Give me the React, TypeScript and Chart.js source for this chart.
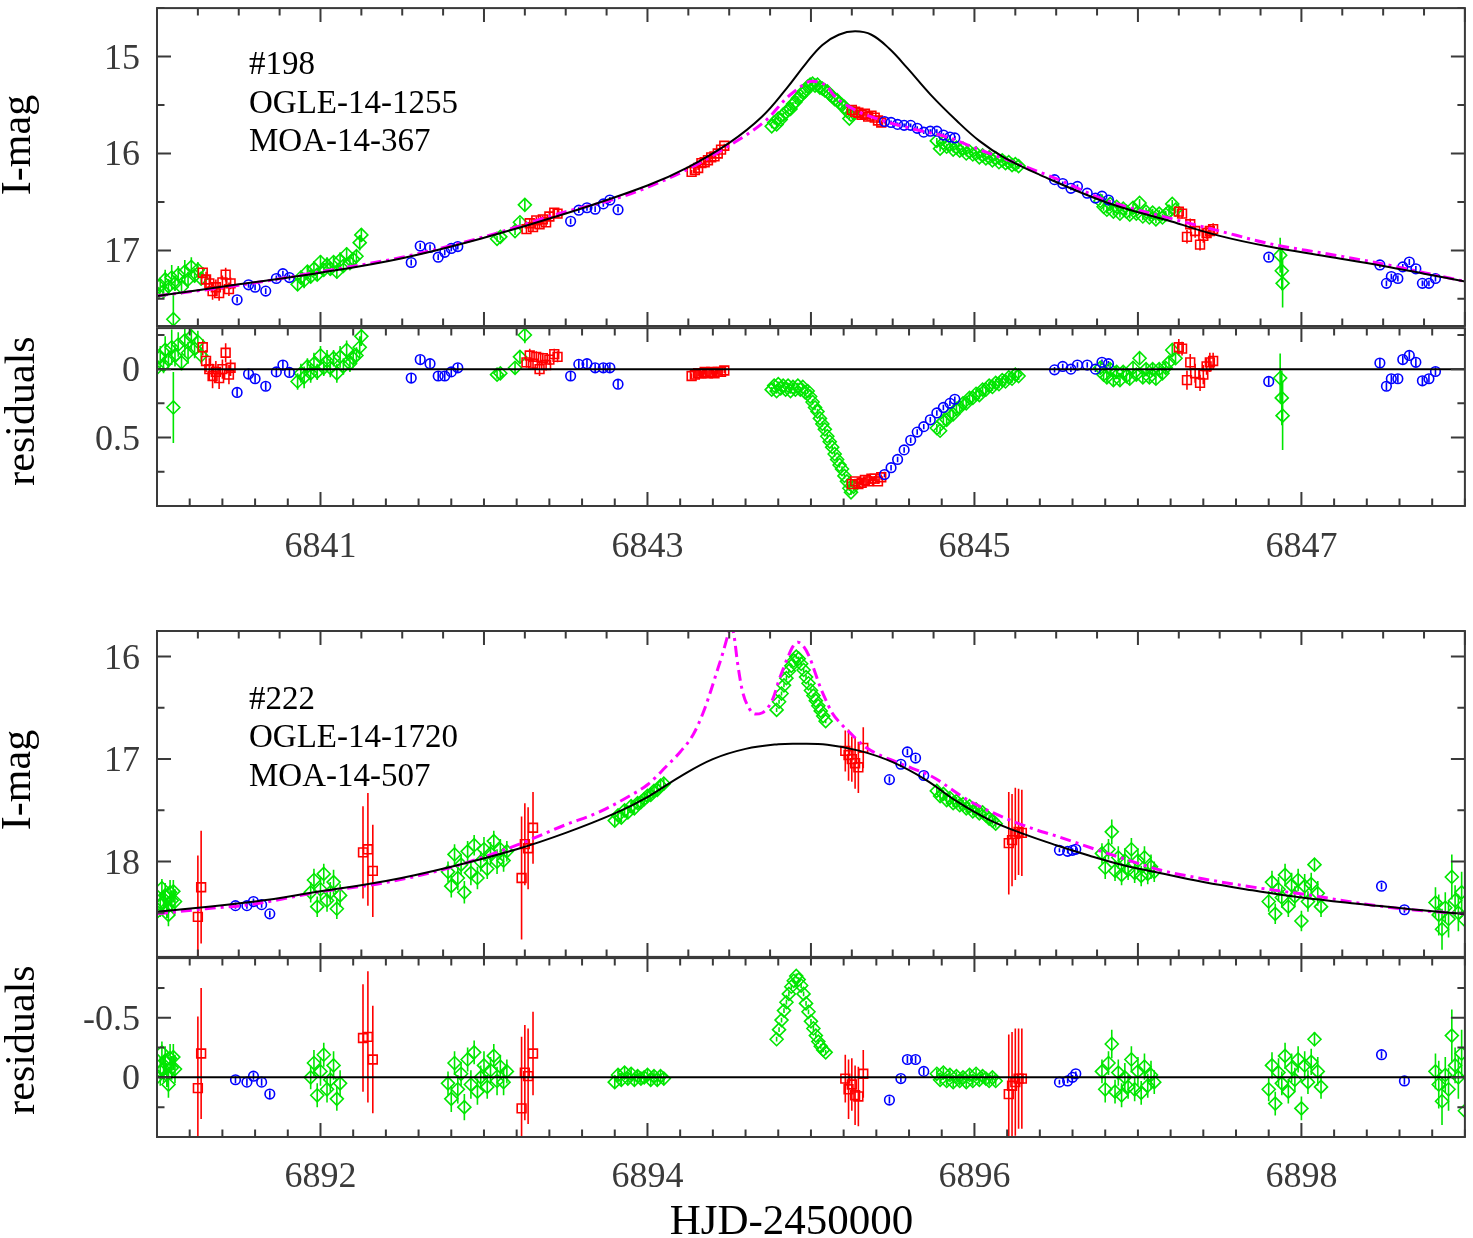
import React, { useEffect, useRef } from 'react';
import { Chart, registerables } from 'chart.js';

Chart.register(...registerables);

// ================= Event #198 =================
const ev1Labels = ['#198', 'OGLE-14-1255', 'MOA-14-367'];
const ev1XMin = 6840, ev1XMax = 6848;
const ev1MagMin = 14.5, ev1MagMax = 17.78;
const ev1ResMin = -0.3, ev1ResMax = 1.0;
const ev1XTickLabels = [6841, 6843, 6845, 6847];
const ev1MagTickLabels = [15, 16, 17];
const ev1ResTickLabels = [0, 0.5];

const ev1GreenT = [
  6840.00, 6840.02, 6840.04, 6840.05, 6840.07, 6840.09, 6840.11, 6840.13, 6840.15, 6840.17, 6840.19, 6840.21, 6840.23, 6840.25, 6840.27, 6840.10,
  6840.86, 6840.88, 6840.90, 6840.92, 6840.94, 6840.96, 6840.98, 6841.00, 6841.02, 6841.04, 6841.06, 6841.08, 6841.10, 6841.12, 6841.14, 6841.16, 6841.18, 6841.20, 6841.22, 6841.24, 6841.25,
  6842.08, 6842.10, 6842.19, 6842.22, 6842.25,
  6843.76, 6843.775, 6843.79, 6843.80, 6843.815, 6843.83, 6843.845, 6843.86, 6843.875, 6843.89, 6843.905, 6843.92, 6843.935, 6843.95, 6843.965, 6843.98, 6843.995, 6844.01, 6844.025, 6844.04, 6844.055, 6844.07, 6844.085, 6844.10, 6844.115, 6844.13, 6844.145, 6844.16, 6844.175, 6844.19, 6844.205, 6844.22, 6844.235, 6844.245, 6844.26,
  6844.77, 6844.79, 6844.81, 6844.83, 6844.85, 6844.87, 6844.89, 6844.91, 6844.93, 6844.95, 6844.97, 6844.99, 6845.01, 6845.03, 6845.05, 6845.07, 6845.09, 6845.11, 6845.13, 6845.15, 6845.17, 6845.19, 6845.21, 6845.23, 6845.25, 6845.27,
  6845.77, 6845.79, 6845.81, 6845.83, 6845.85, 6845.87, 6845.89, 6845.91, 6845.93, 6845.95, 6845.97, 6845.99, 6846.01, 6846.03, 6846.05, 6846.07, 6846.09, 6846.11, 6846.13, 6846.15, 6846.17, 6846.19, 6846.21, 6846.23,
  6846.87, 6846.88, 6846.885,
];
const ev1GreenMag = [
  17.44, 17.36, 17.42, 17.30, 17.37, 17.28, 17.34, 17.25, 17.38, 17.22, 17.30, 17.17, 17.26, 17.20, 17.29, 17.71,
  17.35, 17.28, 17.31, 17.22, 17.27, 17.19, 17.25, 17.12, 17.20, 17.15, 17.19, 17.12, 17.22, 17.10, 17.16, 17.04, 17.13, 17.09, 17.06, 16.92, 16.84,
  16.88, 16.86, 16.80, 16.71, 16.53,
  15.72, 15.68, 15.70, 15.64, 15.65, 15.60, 15.58, 15.55, 15.54, 15.49, 15.47, 15.43, 15.41, 15.37, 15.36, 15.31, 15.29, 15.28, 15.30, 15.29, 15.32, 15.33, 15.35, 15.36, 15.39, 15.41, 15.44, 15.45, 15.48, 15.50, 15.52, 15.56, 15.64, 15.60, 15.58,
  15.87, 15.95, 15.89, 15.93, 15.91, 15.96, 15.94, 15.97, 15.95, 16.00, 15.98, 16.01, 16.00, 16.04, 16.02, 16.05, 16.04, 16.07, 16.05, 16.09, 16.07, 16.10, 16.09, 16.12, 16.11, 16.13,
  16.49, 16.55, 16.58, 16.52, 16.60, 16.55, 16.62, 16.57, 16.60, 16.63, 16.56, 16.62, 16.51, 16.65, 16.60, 16.66, 16.61, 16.68, 16.62, 16.66, 16.63, 16.60, 16.52, 16.58,
  17.05, 17.21, 17.34,
];
const ev1GreenErr = [
  0.05, 0.08, 0.06, 0.10, 0.07, 0.13, 0.08, 0.09, 0.06, 0.12, 0.08, 0.10, 0.07, 0.08, 0.06, 0.26,
  0.06, 0.07, 0.08, 0.06, 0.07, 0.08, 0.06, 0.07, 0.06, 0.08, 0.07, 0.06, 0.07, 0.08, 0.06, 0.07, 0.06, 0.07, 0.06, 0.08, 0.07,
  0.03, 0.03, 0.04, 0.05, 0.06,
  0.02, 0.02, 0.02, 0.02, 0.02, 0.02, 0.02, 0.02, 0.02, 0.02, 0.02, 0.02, 0.02, 0.02, 0.02, 0.02, 0.02, 0.02, 0.02, 0.02, 0.02, 0.02, 0.02, 0.02, 0.02, 0.02, 0.02, 0.02, 0.02, 0.02, 0.02, 0.02, 0.02, 0.02, 0.02,
  0.03, 0.03, 0.03, 0.03, 0.03, 0.03, 0.03, 0.03, 0.03, 0.03, 0.03, 0.03, 0.03, 0.03, 0.03, 0.03, 0.03, 0.03, 0.03, 0.03, 0.03, 0.03, 0.03, 0.03, 0.03, 0.03,
  0.04, 0.04, 0.04, 0.04, 0.04, 0.04, 0.04, 0.04, 0.04, 0.04, 0.04, 0.04, 0.04, 0.04, 0.04, 0.04, 0.04, 0.04, 0.04, 0.04, 0.04, 0.04, 0.04, 0.04,
  0.18, 0.2, 0.25,
];
const ev1GreenRes = [
  -0.01, -0.09, -0.03, -0.14, -0.07, -0.16, -0.10, -0.18, -0.05, -0.21, -0.12, -0.24, -0.15, -0.20, -0.10, 0.28,
  0.09, 0.03, 0.06, -0.02, 0.03, -0.04, 0.02, -0.10, -0.01, -0.06, -0.01, -0.08, 0.03, -0.09, -0.02, -0.14, -0.04, -0.08, -0.10, -0.16, -0.24,
  0.04, 0.03, -0.01, -0.09, -0.25,
  0.15, 0.12, 0.16, 0.11, 0.14, 0.12, 0.15, 0.12, 0.16, 0.13, 0.15, 0.12, 0.15, 0.13, 0.17, 0.16, 0.20, 0.24, 0.28, 0.31, 0.36, 0.40, 0.44, 0.49, 0.53, 0.57, 0.62, 0.66, 0.70, 0.73, 0.78, 0.82, 0.87, 0.90, 0.86,
  0.43, 0.45, 0.38, 0.37, 0.33, 0.33, 0.29, 0.28, 0.25, 0.25, 0.21, 0.21, 0.18, 0.19, 0.15, 0.15, 0.12, 0.13, 0.10, 0.11, 0.08, 0.09, 0.06, 0.07, 0.04, 0.05,
  -0.01, 0.04, 0.06, 0.0, 0.08, 0.02, 0.08, 0.02, 0.05, 0.07, -0.01, 0.04, -0.08, 0.06, 0.0, 0.06, 0.0, 0.07, 0.0, 0.03, -0.01, -0.05, -0.14, -0.08,
  0.065, 0.21, 0.34,
];

const ev1RedT = [
  6840.28, 6840.30, 6840.32, 6840.34, 6840.36, 6840.38, 6840.40, 6840.42, 6840.44, 6840.45,
  6842.26, 6842.28, 6842.30, 6842.32, 6842.34, 6842.36, 6842.38, 6842.40, 6842.43, 6842.45,
  6843.27, 6843.29, 6843.31, 6843.33, 6843.35, 6843.37, 6843.39, 6843.41, 6843.43, 6843.45, 6843.47,
  6844.25, 6844.27, 6844.29, 6844.31, 6844.33, 6844.35, 6844.37, 6844.39, 6844.41, 6844.43,
  6846.25, 6846.27, 6846.30, 6846.32, 6846.35, 6846.38, 6846.40, 6846.42, 6846.44, 6846.46,
];
const ev1RedMag = [
  17.23, 17.30, 17.34, 17.42, 17.38, 17.44, 17.33, 17.25, 17.40, 17.34,
  16.78, 16.72, 16.76, 16.69, 16.73, 16.68, 16.71, 16.65, 16.61, 16.62,
  16.19, 16.17, 16.15, 16.10, 16.09, 16.07, 16.04, 16.03, 16.00, 15.96, 15.92,
  15.55, 15.57, 15.58, 15.60, 15.59, 15.62, 15.61, 15.63, 15.66, 15.68,
  16.60, 16.62, 16.86, 16.73, 16.80, 16.94, 16.85, 16.82, 16.80, 16.78,
];
const ev1RedErr = [
  0.06, 0.08, 0.08, 0.09, 0.08, 0.08, 0.07, 0.07, 0.07, 0.06,
  0.04, 0.05, 0.04, 0.04, 0.05, 0.04, 0.04, 0.04, 0.04, 0.04,
  0.02, 0.02, 0.02, 0.02, 0.02, 0.02, 0.02, 0.02, 0.02, 0.02, 0.02,
  0.02, 0.02, 0.02, 0.02, 0.02, 0.02, 0.02, 0.02, 0.02, 0.02,
  0.06, 0.05, 0.07, 0.06, 0.07, 0.06, 0.07, 0.06, 0.07, 0.06,
];
const ev1RedRes = [
  -0.16, -0.06, 0.0, 0.05, 0.02, 0.065, 0.0, -0.12, 0.04, -0.01,
  -0.05, -0.10, -0.04, -0.09, 0.0, -0.08, -0.03, -0.07, -0.11, -0.09,
  0.05, 0.04, 0.03, 0.03, 0.02, 0.03, 0.02, 0.03, 0.02, 0.02, 0.01,
  0.84, 0.82, 0.84, 0.83, 0.81, 0.82, 0.80, 0.80, 0.82, 0.79,
  -0.16, -0.15, 0.08, -0.05, 0.03, 0.10, 0.04, -0.02, -0.05, -0.06,
];

const ev1BlueT = [
  6840.49, 6840.56, 6840.60, 6840.665, 6840.73, 6840.77, 6840.81,
  6841.555, 6841.61, 6841.67, 6841.72, 6841.76, 6841.80, 6841.84,
  6842.53, 6842.58, 6842.63, 6842.68, 6842.73, 6842.77, 6842.82,
  6844.45, 6844.49, 6844.53, 6844.57, 6844.61, 6844.65, 6844.69, 6844.73, 6844.77, 6844.81, 6844.85, 6844.88,
  6845.49, 6845.54, 6845.59, 6845.63, 6845.69, 6845.74, 6845.78, 6845.82,
  6846.80,
  6847.48, 6847.52, 6847.55, 6847.59, 6847.62, 6847.66, 6847.70, 6847.74, 6847.78, 6847.82,
];
const ev1BlueMag = [
  17.51, 17.355, 17.38, 17.42, 17.29, 17.24, 17.28,
  17.125, 16.955, 16.97, 17.07, 17.02, 16.98, 16.96,
  16.70, 16.585, 16.56, 16.575, 16.52, 16.48, 16.58,
  15.67, 15.68, 15.70, 15.71, 15.71, 15.74, 15.78, 15.77, 15.77, 15.81, 15.83, 15.84,
  16.27, 16.31, 16.36, 16.34, 16.41, 16.46, 16.44, 16.48,
  17.07,
  17.15, 17.34, 17.27, 17.29, 17.17, 17.12, 17.19, 17.34, 17.34, 17.29,
];
const ev1BlueErr = [
  0.03, 0.03, 0.03, 0.03, 0.03, 0.03, 0.03,
  0.03, 0.03, 0.03, 0.03, 0.03, 0.03, 0.03,
  0.03, 0.03, 0.03, 0.03, 0.03, 0.03, 0.03,
  0.02, 0.02, 0.02, 0.02, 0.02, 0.02, 0.02, 0.02, 0.02, 0.02, 0.02, 0.02,
  0.02, 0.02, 0.02, 0.02, 0.02, 0.02, 0.02, 0.02,
  0.03,
  0.03, 0.03, 0.03, 0.03, 0.03, 0.03, 0.03, 0.03, 0.03, 0.03,
];
const ev1BlueRes = [
  0.17, 0.036, 0.07, 0.125, 0.02, -0.03, 0.024,
  0.065, -0.07, -0.04, 0.05, 0.05, 0.02, -0.01,
  0.05, -0.035, -0.04, -0.01, -0.01, -0.01, 0.11,
  0.77, 0.72, 0.66, 0.59, 0.52, 0.46, 0.42, 0.37, 0.32, 0.28, 0.25, 0.22,
  0.005, -0.02, 0.0, -0.03, -0.03, 0.0, -0.05, -0.04,
  0.09,
  -0.045, 0.125, 0.07, 0.07, -0.07, -0.10, -0.05, 0.085, 0.07, 0.017,
];

const ev1SingleT = [6840.0, 6840.5, 6841.0, 6841.5, 6842.0, 6842.5, 6843.0, 6843.25, 6843.5, 6843.7, 6843.85, 6843.97, 6844.07, 6844.17, 6844.27, 6844.37, 6844.48, 6844.59, 6844.73, 6844.89, 6845.03, 6845.18, 6845.4, 6845.8, 6846.2, 6846.5, 6846.8, 6847.15, 6847.5, 6847.75, 6848.0];
const ev1SingleMag = [17.47, 17.35, 17.23, 17.08, 16.87, 16.62, 16.33, 16.14, 15.89, 15.62, 15.33, 15.07, 14.88, 14.775, 14.74, 14.775, 14.92, 15.12, 15.39, 15.66, 15.87, 16.04, 16.22, 16.50, 16.70, 16.85, 16.96, 17.06, 17.16, 17.24, 17.32];
const ev1BinaryT = [6840.0, 6840.5, 6841.0, 6841.5, 6842.0, 6842.5, 6842.8, 6843.0, 6843.26, 6843.48, 6843.73, 6843.85, 6843.93, 6843.97, 6844.01, 6844.06, 6844.1, 6844.14, 6844.28, 6844.42, 6844.63, 6844.83, 6845.03, 6845.24, 6845.5, 6845.8, 6846.2, 6846.5, 6846.83, 6847.14, 6847.5, 6847.75, 6848.0];
const ev1BinaryMag = [17.47, 17.36, 17.22, 17.07, 16.86, 16.60, 16.47, 16.35, 16.15, 15.94, 15.65, 15.43, 15.32, 15.27, 15.255, 15.27, 15.31, 15.40, 15.56, 15.65, 15.75, 15.83, 15.96, 16.09, 16.26, 16.48, 16.67, 16.80, 16.94, 17.03, 17.14, 17.23, 17.32];

// ================= Event #222 =================
const ev2Labels = ['#222', 'OGLE-14-1720', 'MOA-14-507'];
const ev2XMin = 6891, ev2XMax = 6899;
const ev2MagMin = 15.75, ev2MagMax = 18.93;
const ev2ResMin = -1.0, ev2ResMax = 0.5;
const ev2XTickLabels = [6892, 6894, 6896, 6898];
const ev2MagTickLabels = [16, 17, 18];
const ev2ResTickLabels = [-0.5, 0];

const ev2GreenT = [
  6891.00, 6891.02, 6891.03, 6891.04, 6891.05, 6891.06, 6891.07, 6891.08, 6891.09, 6891.10, 6891.11,
  6891.94, 6891.96, 6891.98, 6892.00, 6892.02, 6892.04, 6892.06, 6892.08, 6892.10, 6892.12,
  6892.78, 6892.80, 6892.82, 6892.84, 6892.86, 6892.88, 6892.90, 6892.92, 6892.94, 6892.96, 6892.98, 6893.00, 6893.02, 6893.04, 6893.06, 6893.08, 6893.10, 6893.12, 6893.14,
  6893.80, 6893.82, 6893.84, 6893.86, 6893.88, 6893.90, 6893.92, 6893.94, 6893.96, 6893.98, 6894.00, 6894.02, 6894.04, 6894.06, 6894.08, 6894.10,
  6894.79, 6894.805, 6894.82, 6894.835, 6894.85, 6894.865, 6894.88, 6894.895, 6894.91, 6894.925, 6894.94, 6894.955, 6894.97, 6894.985, 6895.00, 6895.015, 6895.03, 6895.045, 6895.06, 6895.075, 6895.09,
  6895.77, 6895.79, 6895.81, 6895.83, 6895.85, 6895.87, 6895.89, 6895.91, 6895.93, 6895.95, 6895.97, 6895.99, 6896.01, 6896.03, 6896.05, 6896.07, 6896.09, 6896.11, 6896.13,
  6896.78, 6896.80, 6896.82, 6896.84, 6896.86, 6896.88, 6896.90, 6896.92, 6896.94, 6896.96, 6896.98, 6897.00, 6897.02, 6897.04, 6897.06, 6897.08, 6897.10,
  6897.80, 6897.82, 6897.84, 6897.86, 6897.88, 6897.90, 6897.92, 6897.94, 6897.96, 6897.98, 6898.00, 6898.02, 6898.04, 6898.06, 6898.08, 6898.10, 6898.12,
  6898.82, 6898.84, 6898.86, 6898.88, 6898.90, 6898.92, 6898.94, 6898.96, 6898.98, 6899.00,
];
const ev2GreenMag = [
  18.49, 18.42, 18.26, 18.40, 18.33, 18.45, 18.52, 18.30, 18.38, 18.29, 18.39,
  18.30, 18.18, 18.44, 18.27, 18.12, 18.38, 18.30, 18.20, 18.46, 18.33,
  18.10, 18.24, 17.93, 18.16, 18.03, 18.30, 17.90, 18.11, 17.84, 18.16, 18.00, 17.88, 18.07, 17.92, 17.80, 18.00, 17.88, 17.99, 17.90,
  17.60, 17.55, 17.57, 17.50, 17.52, 17.46, 17.48, 17.43, 17.42, 17.39, 17.36, 17.35, 17.31, 17.30, 17.26, 17.24,
  16.52, 16.44, 16.36, 16.28, 16.21, 16.14, 16.09, 16.04, 16.00, 16.02, 16.07, 16.13, 16.20, 16.26, 16.33, 16.38, 16.43, 16.48, 16.53, 16.58, 16.63,
  17.31, 17.36, 17.34, 17.40, 17.38, 17.43, 17.41, 17.45, 17.44, 17.48, 17.46, 17.51, 17.49, 17.53, 17.52, 17.55, 17.58, 17.60, 17.63,
  17.92, 18.06, 17.88, 17.71, 18.09, 17.96, 18.13, 17.99, 18.08, 17.88, 18.11, 17.99, 18.14, 17.96, 18.12, 18.05, 18.10,
  18.39, 18.20, 18.51, 18.27, 18.35, 18.13, 18.44, 18.23, 18.34, 18.18, 18.58, 18.24, 18.39, 18.22, 18.03, 18.31, 18.44,
  18.40, 18.52, 18.66, 18.45, 18.56, 18.15, 18.38, 18.50, 18.30, 18.57,
];
const ev2GreenErr = [
  0.10, 0.12, 0.09, 0.11, 0.12, 0.10, 0.11, 0.12, 0.10, 0.11, 0.12,
  0.10, 0.11, 0.10, 0.12, 0.10, 0.11, 0.10, 0.12, 0.10, 0.11,
  0.10, 0.11, 0.10, 0.12, 0.10, 0.11, 0.10, 0.12, 0.10, 0.11, 0.10, 0.12, 0.10, 0.11, 0.10, 0.12, 0.10, 0.11, 0.10,
  0.05, 0.05, 0.05, 0.05, 0.05, 0.05, 0.05, 0.05, 0.05, 0.05, 0.05, 0.05, 0.05, 0.05, 0.05, 0.05,
  0.02, 0.02, 0.02, 0.02, 0.02, 0.02, 0.02, 0.02, 0.02, 0.02, 0.02, 0.02, 0.02, 0.02, 0.02, 0.02, 0.02, 0.02, 0.02, 0.02, 0.02,
  0.04, 0.04, 0.04, 0.04, 0.04, 0.04, 0.04, 0.04, 0.04, 0.04, 0.04, 0.04, 0.04, 0.04, 0.04, 0.04, 0.04, 0.04, 0.04,
  0.10, 0.11, 0.10, 0.12, 0.10, 0.11, 0.10, 0.12, 0.10, 0.11, 0.10, 0.12, 0.10, 0.11, 0.10, 0.12, 0.10,
  0.10, 0.11, 0.10, 0.12, 0.10, 0.11, 0.10, 0.12, 0.10, 0.11, 0.10, 0.12, 0.10, 0.11, 0.06, 0.12, 0.10,
  0.15, 0.20, 0.20, 0.15, 0.18, 0.22, 0.15, 0.18, 0.20, 0.20,
];
const ev2GreenRes = [
  0.0, -0.05, -0.21, -0.07, -0.14, -0.02, 0.06, -0.16, -0.08, -0.17, -0.07,
  0.0, -0.12, 0.15, -0.05, -0.19, 0.10, 0.02, -0.10, 0.18, 0.05,
  0.05, 0.18, -0.12, 0.10, -0.03, 0.25, -0.15, 0.06, -0.21, 0.12, 0.0, -0.10, 0.08, -0.06, -0.18, 0.03, -0.09, 0.04, -0.05,
  0.04, -0.02, 0.02, -0.04, 0.01, -0.03, 0.02, -0.01, 0.01, 0.0, -0.02, 0.02, -0.01, 0.02, -0.01, 0.01,
  -0.32, -0.40, -0.48, -0.56, -0.63, -0.70, -0.76, -0.81, -0.85, -0.82, -0.77, -0.70, -0.62, -0.55, -0.47, -0.41, -0.35, -0.30, -0.26, -0.23, -0.21,
  -0.03, 0.02, -0.04, 0.03, -0.02, 0.04, -0.01, 0.03, 0.0, 0.04, -0.02, 0.03, -0.03, 0.02, -0.01, 0.01, 0.03, 0.0, 0.03,
  -0.05, 0.10, -0.12, -0.28, 0.12, -0.04, 0.15, 0.0, 0.08, -0.15, 0.10, -0.05, 0.13, -0.09, 0.07, -0.02, 0.04,
  0.10, -0.10, 0.22, -0.04, 0.05, -0.18, 0.12, -0.08, 0.02, -0.15, 0.26, -0.10, 0.04, -0.13, -0.32, -0.05, 0.08,
  -0.05, 0.06, 0.20, -0.02, 0.10, -0.35, -0.10, 0.0, -0.20, 0.28,
];

const ev2RedT = [6891.25, 6891.27, 6892.26, 6892.29, 6892.32, 6893.23, 6893.25, 6893.27, 6893.30, 6895.21, 6895.23, 6895.25, 6895.27, 6895.29, 6895.32, 6896.21, 6896.23, 6896.25, 6896.27, 6896.29];
const ev2RedMag = [18.54, 18.25, 17.91, 17.88, 18.09, 18.16, 17.83, 17.87, 17.67, 16.92, 16.96, 17.00, 17.04, 17.08, 16.89, 17.82, 17.79, 17.73, 17.71, 17.72];
const ev2RedErr = [0.6, 0.55, 0.45, 0.55, 0.45, 0.6, 0.4, 0.4, 0.35, 0.2, 0.25, 0.22, 0.25, 0.25, 0.2, 0.5, 0.45, 0.45, 0.42, 0.42];
const ev2RedRes = [0.09, -0.2, -0.33, -0.34, -0.15, 0.26, -0.04, -0.01, -0.2, 0.01, 0.1, 0.06, 0.15, 0.16, -0.03, 0.14, 0.07, 0.04, 0.01, 0.01];

const ev2BlueT = [6891.48, 6891.55, 6891.59, 6891.64, 6891.69, 6895.48, 6895.55, 6895.59, 6895.64, 6895.69, 6896.52, 6896.57, 6896.60, 6896.62, 6898.49, 6898.63];
const ev2BlueMag = [18.43, 18.43, 18.39, 18.42, 18.51, 17.20, 17.05, 16.93, 16.99, 17.16, 17.89, 17.90, 17.89, 17.88, 18.24, 18.47];
const ev2BlueErr = [0.03, 0.03, 0.03, 0.03, 0.03, 0.03, 0.03, 0.03, 0.03, 0.03, 0.02, 0.02, 0.02, 0.02, 0.03, 0.03];
const ev2BlueRes = [0.02, 0.04, -0.01, 0.04, 0.14, 0.19, 0.01, -0.15, -0.15, -0.05, 0.04, 0.03, 0.0, -0.03, -0.19, 0.03];

const ev2SingleT = [6891.0, 6891.6, 6892.0, 6892.4, 6892.8, 6893.2, 6893.5, 6893.8, 6894.0, 6894.2, 6894.4, 6894.6, 6894.8, 6894.93, 6895.1, 6895.3, 6895.5, 6895.7, 6895.9, 6896.1, 6896.3, 6896.5, 6896.7, 6896.9, 6897.1, 6897.4, 6897.7, 6898.0, 6898.4, 6898.7, 6899.0];
const ev2SingleMag = [18.49, 18.39, 18.29, 18.19, 18.05, 17.88, 17.72, 17.53, 17.37, 17.17, 17.00, 16.90, 16.855, 16.85, 16.86, 16.92, 17.03, 17.20, 17.42, 17.60, 17.73, 17.84, 17.94, 18.03, 18.10, 18.20, 18.28, 18.35, 18.42, 18.47, 18.51];
const ev2BinaryT = [6891.0, 6891.3, 6891.57, 6891.98, 6892.38, 6892.79, 6893.2, 6893.5, 6893.70, 6893.89, 6894.0, 6894.11, 6894.2, 6894.28, 6894.34, 6894.38, 6894.42, 6894.46, 6894.49, 6894.51, 6894.53, 6894.55, 6894.58, 6894.62, 6894.66, 6894.70, 6894.74, 6894.77, 6894.80, 6894.83, 6894.86, 6894.89, 6894.92, 6894.95, 6894.99, 6895.02, 6895.05, 6895.09, 6895.13, 6895.18, 6895.23, 6895.34, 6895.54, 6895.74, 6895.95, 6896.15, 6896.36, 6896.52, 6896.72, 6896.93, 6897.13, 6897.44, 6897.75, 6898.06, 6898.37, 6898.67, 6899.0];
const ev2BinaryMag = [18.51, 18.46, 18.42, 18.30, 18.21, 18.06, 17.84, 17.64, 17.52, 17.36, 17.25, 17.08, 16.93, 16.76, 16.55, 16.37, 16.17, 15.97, 15.80, 15.68, 15.80, 16.05, 16.33, 16.50, 16.56, 16.55, 16.49, 16.40, 16.25, 16.12, 16.00, 15.90, 15.86, 15.89, 16.00, 16.13, 16.27, 16.42, 16.55, 16.65, 16.73, 16.89, 17.04, 17.17, 17.39, 17.55, 17.68, 17.76, 17.87, 17.98, 18.08, 18.18, 18.26, 18.33, 18.41, 18.47, 18.51];

const xAxisTitle = 'HJD-2450000';
const magAxisTitle = 'I-mag';
const resAxisTitle = 'residuals';

// ================= styling / layout =================
const GREEN = '#00e600';
const RED = '#ff0000';
const BLUE = '#0000ff';
const MAGENTA = '#ff00ff';
const AXIS = '#3a3a3a';
const FONT = '"Liberation Serif", "Times New Roman", Times, serif';
const W = 1473;
const PLOT_L = 157;
const PLOT_R = 1466;

function range(a: number, b: number, s: number): number[] {
  const out: number[] = [];
  for (let i = 0; a + i * s <= b + 1e-9; i++) out.push(Math.round((a + i * s) * 1000) / 1000);
  return out;
}

function pts(t: number[], v: number[]) {
  return t.map((x, i) => ({ x, y: v[i] }));
}

function markerSet(label: string, t: number[], v: number[], e: number[], kind: 'g' | 'r' | 'b') {
  const color = kind === 'g' ? GREEN : kind === 'r' ? RED : BLUE;
  const style = kind === 'g' ? 'rectRot' : kind === 'r' ? 'rect' : 'circle';
  const radius = kind === 'g' ? 6.5 : kind === 'r' ? 6.2 : 4.8;
  return {
    label,
    data: pts(t, v),
    errs: e,
    showLine: false,
    pointStyle: style,
    pointRadius: radius,
    pointHoverRadius: radius,
    pointBorderColor: color,
    pointBackgroundColor: 'rgba(0,0,0,0)',
    pointBorderWidth: 1.6,
    borderColor: color,
    order: kind === 'g' ? 3 : kind === 'r' ? 2 : 1,
  };
}

function curveSet(label: string, t: number[], v: number[], kind: 'single' | 'binary' | 'zero') {
  return {
    label,
    data: pts(t, v),
    showLine: true,
    pointRadius: 0,
    pointHoverRadius: 0,
    borderColor: kind === 'binary' ? MAGENTA : '#000000',
    borderWidth: kind === 'binary' ? 3 : 2,
    borderDash: kind === 'binary' ? [11, 5, 3, 5] : [],
    cubicInterpolationMode: kind === 'binary' ? 'monotone' : 'default',
    tension: kind === 'single' ? 0.4 : 0,
    fill: false,
    order: 0,
  };
}

type Decor = {
  yMajor: number[];
  yMinor: number[];
  yLabels: number[];
  xMajorTop: number[];
  xMinorTop: number[];
  xMajorBot: number[];
  xMinorBot: number[];
  xLabels: number[];
  xLabelBase: number;
  yTitle: string;
  yTitleX: number;
  yTitleY: number;
  texts: string[];
  textX: number;
  textBase: number[];
  xTitle?: string;
  xTitleBase?: number;
};

function fmt(v: number) {
  return String(v);
}

function makeDecor(d: Decor) {
  return {
    id: 'decor',
    beforeDatasetsDraw(chart: any) {
      const { ctx, chartArea: a, scales } = chart;
      const xs = scales.x;
      const ys = scales.y;
      ctx.save();
      ctx.beginPath();
      ctx.rect(a.left, a.top, a.right - a.left, a.bottom - a.top);
      ctx.clip();
      chart.data.datasets.forEach((ds: any) => {
        if (!ds.errs) return;
        ctx.strokeStyle = ds.borderColor;
        ctx.lineWidth = 1.6;
        ctx.beginPath();
        ds.data.forEach((p: any, i: number) => {
          const e = ds.errs[i] ?? 0;
          const px = xs.getPixelForValue(p.x);
          ctx.moveTo(px, ys.getPixelForValue(p.y - e));
          ctx.lineTo(px, ys.getPixelForValue(p.y + e));
        });
        ctx.stroke();
      });
      ctx.restore();
    },
    afterDraw(chart: any) {
      const { ctx, chartArea: a, scales } = chart;
      const xs = scales.x;
      const ys = scales.y;
      const LONG = 14;
      const SHORT = 7.5;
      ctx.save();
      ctx.strokeStyle = AXIS;
      ctx.lineWidth = 2;
      ctx.beginPath();
      const inX = (v: number) => v >= xs.min - 1e-9 && v <= xs.max + 1e-9;
      const inY = (v: number) => v >= Math.min(ys.min, ys.max) - 1e-9 && v <= Math.max(ys.min, ys.max) + 1e-9;
      const xt = (vals: number[], len: number, top: boolean) => {
        vals.filter(inX).forEach((v) => {
          const px = xs.getPixelForValue(v);
          if (top) {
            ctx.moveTo(px, a.top);
            ctx.lineTo(px, a.top + len);
          } else {
            ctx.moveTo(px, a.bottom);
            ctx.lineTo(px, a.bottom - len);
          }
        });
      };
      xt(d.xMajorTop, LONG, true);
      xt(d.xMinorTop, SHORT, true);
      xt(d.xMajorBot, LONG, false);
      xt(d.xMinorBot, SHORT, false);
      const yt = (vals: number[], len: number) => {
        vals.filter(inY).forEach((v) => {
          const py = ys.getPixelForValue(v);
          ctx.moveTo(a.left, py);
          ctx.lineTo(a.left + len, py);
          ctx.moveTo(a.right, py);
          ctx.lineTo(a.right - len, py);
        });
      };
      yt(d.yMajor, LONG);
      yt(d.yMinor, SHORT);
      ctx.stroke();
      ctx.strokeRect(a.left, a.top, a.right - a.left, a.bottom - a.top);

      ctx.fillStyle = AXIS;
      ctx.font = `36px ${FONT}`;
      ctx.textAlign = 'right';
      ctx.textBaseline = 'alphabetic';
      d.yLabels.forEach((v) => {
        ctx.fillText(fmt(v), 140, ys.getPixelForValue(v) + 12);
      });
      ctx.textAlign = 'center';
      d.xLabels.forEach((v) => {
        ctx.fillText(fmt(v), xs.getPixelForValue(v), d.xLabelBase);
      });

      ctx.fillStyle = '#000000';
      ctx.font = `42px ${FONT}`;
      ctx.save();
      ctx.translate(d.yTitleX, d.yTitleY);
      ctx.rotate(-Math.PI / 2);
      ctx.textAlign = 'center';
      ctx.fillText(d.yTitle, 0, 0);
      ctx.restore();
      if (d.xTitle) {
        ctx.font = `43px ${FONT}`;
        ctx.textAlign = 'center';
        ctx.fillText(d.xTitle, (PLOT_L + PLOT_R) / 2 - 20, d.xTitleBase as number);
      }
      ctx.font = `33px ${FONT}`;
      ctx.textAlign = 'left';
      d.texts.forEach((s, i) => ctx.fillText(s, d.textX, d.textBase[i]));
      ctx.restore();
    },
  };
}

type PanelProps = {
  top: number;
  height: number;
  areaTop: number;
  areaBottom: number;
  xMin: number;
  xMax: number;
  yMin: number;
  yMax: number;
  datasets: any[];
  decor: Decor;
};

function Panel(p: PanelProps) {
  const ref = useRef<HTMLCanvasElement | null>(null);
  useEffect(() => {
    if (!ref.current) return;
    const chart = new Chart(ref.current, {
      type: 'scatter',
      data: { datasets: p.datasets },
      options: {
        animation: false,
        responsive: false,
        maintainAspectRatio: false,
        events: [],
        layout: {
          padding: { left: PLOT_L, right: W - PLOT_R, top: p.areaTop, bottom: p.height - p.areaBottom },
        },
        scales: {
          x: { type: 'linear', min: p.xMin, max: p.xMax, display: false },
          y: { type: 'linear', min: p.yMin, max: p.yMax, reverse: true, display: false },
        },
        plugins: { legend: { display: false }, tooltip: { enabled: false } },
      } as any,
      plugins: [makeDecor(p.decor)],
    } as any);
    return () => chart.destroy();
  }, []);
  return (
    <canvas
      ref={ref}
      width={W}
      height={p.height}
      style={{ position: 'absolute', left: 0, top: p.top, width: W, height: p.height }}
    />
  );
}

const zeroLine = [0, 0];

export default function App() {
  const mainMinor1 = range(ev1XMin, ev1XMax, 0.25);
  const mainMajor1 = range(ev1XMin, ev1XMax, 1);
  const resMinor1 = range(ev1XMin, ev1XMax, 0.2);
  const mainMinor2 = range(ev2XMin, ev2XMax, 0.25);
  const mainMajor2 = range(ev2XMin, ev2XMax, 1);
  const resMinor2 = range(ev2XMin, ev2XMax, 0.2);

  const p1: PanelProps = {
    top: 0, height: 340, areaTop: 2, areaBottom: 326,
    xMin: ev1XMin, xMax: ev1XMax, yMin: ev1MagMin, yMax: ev1MagMax,
    datasets: [
      curveSet('single', ev1SingleT, ev1SingleMag, 'single'),
      curveSet('binary', ev1BinaryT, ev1BinaryMag, 'binary'),
      markerSet('blue', ev1BlueT, ev1BlueMag, ev1BlueErr, 'b'),
      markerSet('red', ev1RedT, ev1RedMag, ev1RedErr, 'r'),
      markerSet('green', ev1GreenT, ev1GreenMag, ev1GreenErr, 'g'),
    ],
    decor: {
      yMajor: ev1MagTickLabels, yMinor: [14.5, 15.5, 16.5, 17.5], yLabels: ev1MagTickLabels,
      xMajorTop: mainMajor1, xMinorTop: mainMinor1, xMajorBot: mainMajor1, xMinorBot: mainMinor1,
      xLabels: [], xLabelBase: 0,
      yTitle: magAxisTitle, yTitleX: 30, yTitleY: 145,
      texts: ev1Labels, textX: 249, textBase: [74, 112.5, 151],
    },
  };
  const p2: PanelProps = {
    top: 320, height: 300, areaTop: 6, areaBottom: 186,
    xMin: ev1XMin, xMax: ev1XMax, yMin: ev1ResMin, yMax: ev1ResMax,
    datasets: [
      curveSet('zero', [ev1XMin, ev1XMax], zeroLine, 'zero'),
      markerSet('blue', ev1BlueT, ev1BlueRes, ev1BlueErr, 'b'),
      markerSet('red', ev1RedT, ev1RedRes, ev1RedErr, 'r'),
      markerSet('green', ev1GreenT, ev1GreenRes, ev1GreenErr, 'g'),
    ],
    decor: {
      yMajor: ev1ResTickLabels, yMinor: [-0.25, 0.25, 0.75], yLabels: ev1ResTickLabels,
      xMajorTop: ev1XTickLabels, xMinorTop: resMinor1, xMajorBot: ev1XTickLabels, xMinorBot: resMinor1,
      xLabels: ev1XTickLabels, xLabelBase: 237,
      yTitle: resAxisTitle, yTitleX: 34, yTitleY: 91,
      texts: [], textX: 0, textBase: [],
    },
  };
  const p3: PanelProps = {
    top: 620, height: 345, areaTop: 11, areaBottom: 337,
    xMin: ev2XMin, xMax: ev2XMax, yMin: ev2MagMin, yMax: ev2MagMax,
    datasets: [
      curveSet('single', ev2SingleT, ev2SingleMag, 'single'),
      curveSet('binary', ev2BinaryT, ev2BinaryMag, 'binary'),
      markerSet('blue', ev2BlueT, ev2BlueMag, ev2BlueErr, 'b'),
      markerSet('red', ev2RedT, ev2RedMag, ev2RedErr, 'r'),
      markerSet('green', ev2GreenT, ev2GreenMag, ev2GreenErr, 'g'),
    ],
    decor: {
      yMajor: ev2MagTickLabels, yMinor: [16.5, 17.5, 18.5], yLabels: ev2MagTickLabels,
      xMajorTop: mainMajor2, xMinorTop: mainMinor2, xMajorBot: mainMajor2, xMinorBot: mainMinor2,
      xLabels: [], xLabelBase: 0,
      yTitle: magAxisTitle, yTitleX: 30, yTitleY: 160,
      texts: ev2Labels, textX: 249, textBase: [89, 127, 166],
    },
  };
  const p4: PanelProps = {
    top: 950, height: 288, areaTop: 7, areaBottom: 187,
    xMin: ev2XMin, xMax: ev2XMax, yMin: ev2ResMin, yMax: ev2ResMax,
    datasets: [
      curveSet('zero', [ev2XMin, ev2XMax], zeroLine, 'zero'),
      markerSet('blue', ev2BlueT, ev2BlueRes, ev2BlueErr, 'b'),
      markerSet('red', ev2RedT, ev2RedRes, ev2RedErr, 'r'),
      markerSet('green', ev2GreenT, ev2GreenRes, ev2GreenErr, 'g'),
    ],
    decor: {
      yMajor: [-1.0, ...ev2ResTickLabels], yMinor: [-0.75, -0.25, 0.25], yLabels: ev2ResTickLabels,
      xMajorTop: ev2XTickLabels, xMinorTop: resMinor2, xMajorBot: ev2XTickLabels, xMinorBot: resMinor2,
      xLabels: ev2XTickLabels, xLabelBase: 237,
      yTitle: resAxisTitle, yTitleX: 34, yTitleY: 90,
      texts: [], textX: 0, textBase: [],
      xTitle: xAxisTitle, xTitleBase: 284,
    },
  };

  return (
    <div style={{ position: 'absolute', left: 0, top: 0, width: W, height: 1238, background: '#ffffff' }}>
      <Panel {...p1} />
      <Panel {...p3} />
      <Panel {...p2} />
      <Panel {...p4} />
    </div>
  );
}
